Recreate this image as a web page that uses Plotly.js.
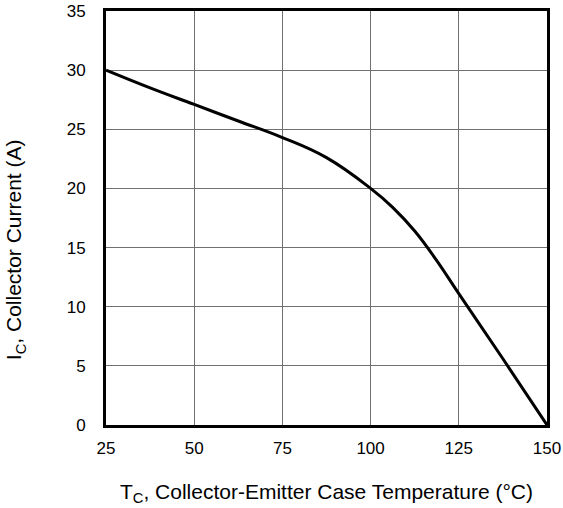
<!DOCTYPE html>
<html>
<head>
<meta charset="utf-8">
<script src="https://cdn.plot.ly/plotly-3.0.1.min.js"></script>
<style>html,body{margin:0;padding:0;background:#fff;}#chart{width:563px;height:508px;}</style>
</head>
<body>
<div id="chart"></div>
<script>
const caseTemp = [25, 37.5, 50, 62.5, 75, 87.5, 100, 106.25, 112.5, 118.75, 125, 137.5, 150];
const collectorCurrent = [30, 28.5, 27.1, 25.7, 24.3, 22.6, 20, 18.4, 16.4, 13.9, 11.1, 5.6, 0];
const xTicks = [25, 50, 75, 100, 125, 150];
const yTicks = [0, 5, 10, 15, 20, 25, 30, 35];
const xTitle = 'T<sub>C</sub>, Collector-Emitter Case Temperature (°C)';
const yTitle = 'I<sub>C</sub>, Collector Current (A)';

const trace = {
  x: caseTemp, y: collectorCurrent, type: 'scatter', mode: 'lines',
  line: {color: '#000', width: 3, shape: 'spline', smoothing: 1.2},
  hoverinfo: 'skip'
};
const FONT = 'Arial, Liberation Sans, sans-serif';
const axisCommon = {
  showline: true, mirror: true, linecolor: '#000', linewidth: 3,
  showgrid: true, gridcolor: '#707070', gridwidth: 1,
  zeroline: false, ticks: 'outside', tickcolor: 'rgba(0,0,0,0)',
  tickfont: {family: FONT, size: 17, color: '#000'}
};
const layout = {
  width: 563, height: 508,
  margin: {l: 106, r: 16, t: 11, b: 83},
  paper_bgcolor: '#fff', plot_bgcolor: '#fff',
  showlegend: false,
  xaxis: Object.assign({}, axisCommon, {
    range: [25, 150], tickvals: xTicks, ticklen: 6,
    title: {text: xTitle, standoff: 27,
      font: {family: FONT, size: 21, color: '#000'}}
  }),
  yaxis: Object.assign({}, axisCommon, {
    range: [0, 35], tickvals: yTicks, ticklen: 14
  }),
  annotations: [{
    text: yTitle, textangle: -90, showarrow: false,
    xref: 'paper', yref: 'paper', x: -0.206, y: 0.4227,
    xanchor: 'center', yanchor: 'middle',
    font: {family: FONT, size: 21, color: '#000'}
  }]
};
Plotly.newPlot('chart', [trace], layout, {staticPlot: true, displayModeBar: false});
</script>
</body>
</html>
